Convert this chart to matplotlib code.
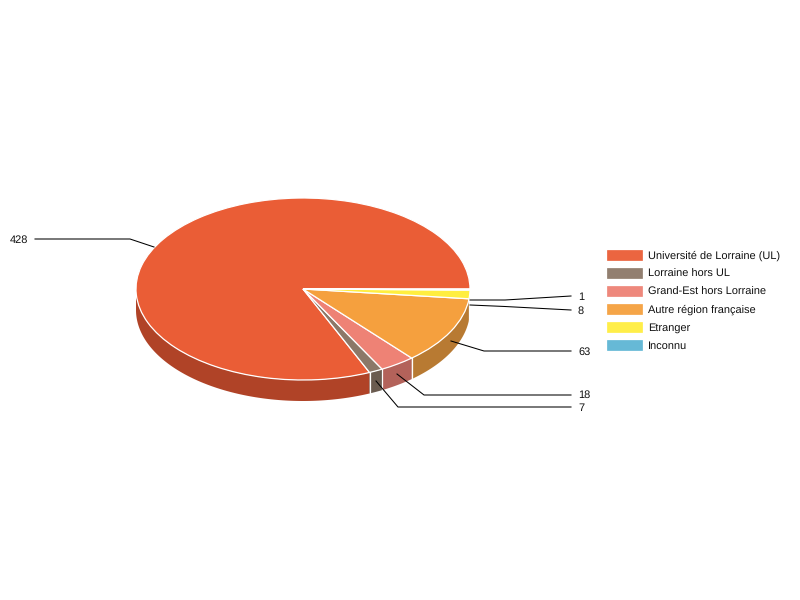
import numpy as np
import matplotlib
matplotlib.use("Agg")
import matplotlib.pyplot as plt
from matplotlib.patches import Patch

plt.rcParams['font.family'] = ['Liberation Sans', 'DejaVu Sans']
plt.rcParams['text.hinting'] = 'no_hinting'
plt.rcParams['text.hinting_factor'] = 1

categories = ["Université de Lorraine (UL)", "Lorraine hors UL", "Grand-Est hors Lorraine",
              "Autre région française", "Etranger", "Inconnu"]
values = [428, 7, 18, 63, 8, 1]
colors = ["#EA5D36", "#8C7868", "#EE8275", "#F5A03E", "#FFEE3F", "#5EB6D4"]
wall_colors = ["#B04327", "#6A5B4F", "#B3625A", "#B87A32", "#BFB22F", "#478AA0"]

# label text, anchor x, y, ha and leader polyline (figure pixels)
leaders = [
    ("428", 28, 240, "right", [(35, 239), (130, 239), (154, 247)]),
    ("1", 578, 297, "left", [(470, 300), (505, 300), (571, 296)]),
    ("8", 578, 311, "left", [(470, 305), (505, 306.5), (571, 310)]),
    ("63", 578, 352, "left", [(451, 341), (484, 351), (571, 351)]),
    ("18", 578, 395, "left", [(397, 374), (424, 395), (571, 395)]),
    ("7", 578, 408, "left", [(376, 381), (398, 407), (571, 407)]),
]

W, H = 800, 600
DEPTH = 21 / 91  # wall height in pie-axes units

fig = plt.figure(figsize=(8, 6), dpi=100, facecolor="white")
ax = fig.add_axes([136 / W, (H - 380) / H, 334 / W, 182 / H])

ax.pie(values, colors=colors, startangle=0, counterclock=True, radius=1,
       wedgeprops=dict(edgecolor="white", linewidth=0.9, zorder=3, clip_on=False))
ax.set_aspect("auto")
ax.set_xlim(-1, 1)
ax.set_ylim(-1, 1)

# side wall of the front half
edges = np.concatenate([[0], np.cumsum(values)]) / np.sum(values) * 360
for a0, a1, c in zip(edges[:-1], edges[1:], wall_colors):
    lo, hi = max(a0, 180), min(a1, 360)
    if hi <= lo:
        continue
    t = np.radians(np.linspace(lo, hi, 120))
    x, y = np.cos(t), np.sin(t)
    ax.fill(np.r_[x, x[::-1]], np.r_[y, y[::-1] - DEPTH], color=c, lw=0, zorder=1, clip_on=False)
for a in edges[1:-1]:
    if a > 180:
        t = np.radians(a)
        ax.plot([np.cos(t)] * 2, [np.sin(t), np.sin(t) - DEPTH], color="white", lw=0.9,
                zorder=2, clip_on=False)

# overlay in pixel coordinates for labels and legend
ov = fig.add_axes([0, 0, 1, 1], facecolor="none", zorder=5)
ov.set_xlim(0, W)
ov.set_ylim(H, 0)
ov.axis("off")
for txt, tx, ty, ha, pts in leaders:
    px, py = zip(*pts)
    ov.plot(px, py, color="black", lw=0.75)
    ov.text(tx, ty, txt, ha=ha, va="center", fontsize=7.92, color="#111111")

handles = [Patch(facecolor=c, edgecolor=c, alpha=0.95, linewidth=0.5) for c in colors]
ov.legend(handles, categories, loc="upper left", bbox_to_anchor=(603 / W, 1 - 246 / H),
          bbox_transform=fig.transFigure, frameon=False, fontsize=7.92, ncol=1,
          handlelength=3.15, handleheight=1.0, handletextpad=0.57, labelspacing=0.63,
          borderpad=0.4, borderaxespad=0, labelcolor="#111111")

fig.savefig("out.png", dpi=100)
